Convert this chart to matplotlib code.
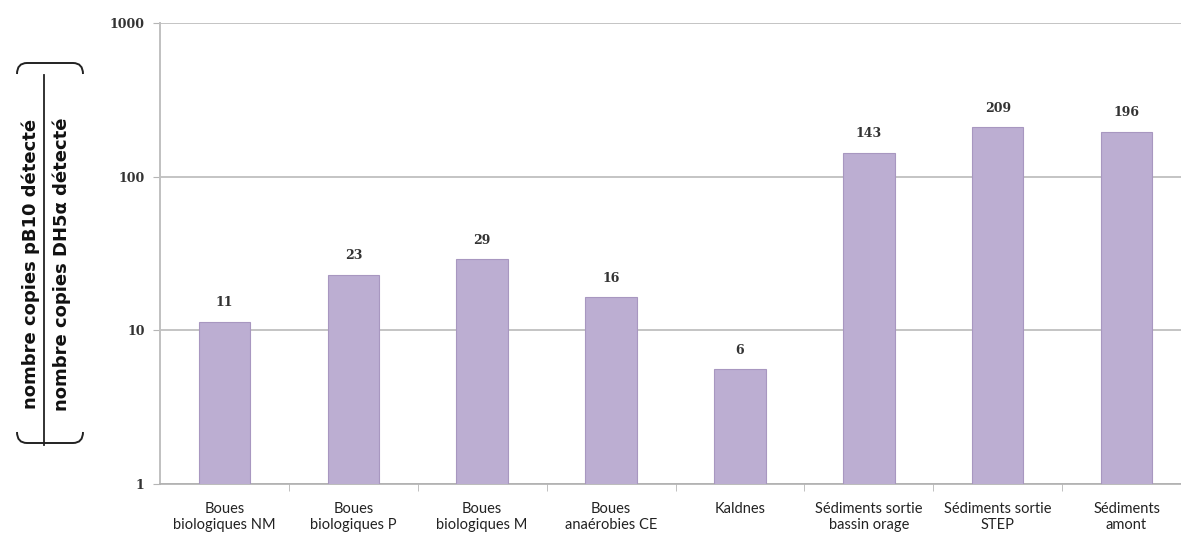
import matplotlib
matplotlib.use("Agg")
import matplotlib.pyplot as plt
from matplotlib.path import Path
from matplotlib.patches import PathPatch
from matplotlib.lines import Line2D
from matplotlib.ticker import FixedLocator, NullLocator

categories = ["Boues\nbiologiques NM", "Boues\nbiologiques P", "Boues\nbiologiques M",
              "Boues\nanaérobies CE", "Kaldnes", "Sédiments sortie\nbassin orage",
              "Sédiments sortie\nSTEP", "Sédiments\namont"]
values = [11.4, 23, 29, 16.4, 5.6, 143, 209, 196]
value_labels = ["11", "23", "29", "16", "6", "143", "209", "196"]
yticks = [1, 10, 100, 1000]
ytick_labels = ["1", "10", "100", "1000"]

W, H = 1181, 545
fig = plt.figure(figsize=(W / 100, H / 100), dpi=100)
ax = fig.add_axes([160 / W, 1 - 484 / H, 1031 / W, (484 - 23) / H])

x = list(range(len(categories)))
ax.bar(x, values, width=0.40, color="#bcaed2", edgecolor="#a897c0", linewidth=0.8, zorder=3)
ax.set_yscale("log")
ax.set_ylim(1, 1000)
ax.set_xlim(-0.5, len(categories) - 0.5)

ax.yaxis.set_major_locator(FixedLocator(yticks))
ax.yaxis.set_minor_locator(NullLocator())
ax.set_yticklabels(ytick_labels, fontfamily="DejaVu Serif", fontsize=9, color="#333333", fontweight="bold")
ax.grid(axis="y", color="#c4c4c4", linewidth=1.4, zorder=0)

ax.set_xticks(x)
ax.set_xticklabels(categories, fontfamily="Lato", fontsize=10.5, color="#222222", linespacing=1.2)
ax.tick_params(axis="x", which="major", length=0, pad=13)
ax.set_xticks([i + 0.5 for i in x[:-1]], minor=True)
ax.tick_params(axis="x", which="minor", length=5, color="#b5b5b5", direction="out")
ax.tick_params(axis="y", length=5, color="#b5b5b5", pad=6)

for s in ["top", "right"]:
    ax.spines[s].set_visible(False)
ax.spines["left"].set_color("#c0c0c0")
ax.spines["left"].set_linewidth(1.4)
ax.spines["bottom"].set_color("#b0b0b0")
ax.spines["bottom"].set_linewidth(1.2)

for xi, v, lab in zip(x, values, value_labels):
    ax.annotate(lab, (xi, v), xytext=(0, 9), textcoords="offset points",
                ha="center", va="bottom", fontfamily="DejaVu Serif",
                fontsize=9, color="#333333", fontweight="bold")

# y-axis label as a fraction inside large parentheses
def px(xp, yp):
    return (xp / W, 1 - yp / H)

fig.text(*px(31, 264), "nombre copies pB10 détecté", rotation=90, ha="center", va="center",
         fontfamily="DejaVu Sans", fontweight="bold", fontsize=13, color="#111111")
fig.text(*px(62, 264), "nombre copies DH5α détecté", rotation=90, ha="center", va="center",
         fontfamily="DejaVu Sans", fontweight="bold", fontsize=13, color="#111111")
fig.add_artist(Line2D([44 / W, 44 / W], [1 - 75 / H, 1 - 445 / H], color="#222222",
                      linewidth=1.3, transform=fig.transFigure))

def bracket(ytop, ycurl):
    verts = [px(17, ycurl), px(17, ytop), px(27, ytop), px(73, ytop), px(83, ytop), px(83, ycurl)]
    codes = [Path.MOVETO, Path.CURVE3, Path.CURVE3, Path.LINETO, Path.CURVE3, Path.CURVE3]
    fig.add_artist(PathPatch(Path(verts, codes), fill=False, edgecolor="#222222",
                             linewidth=1.4, transform=fig.transFigure))

bracket(63, 74)
bracket(443, 432)

fig.savefig("out.png", dpi=100)
